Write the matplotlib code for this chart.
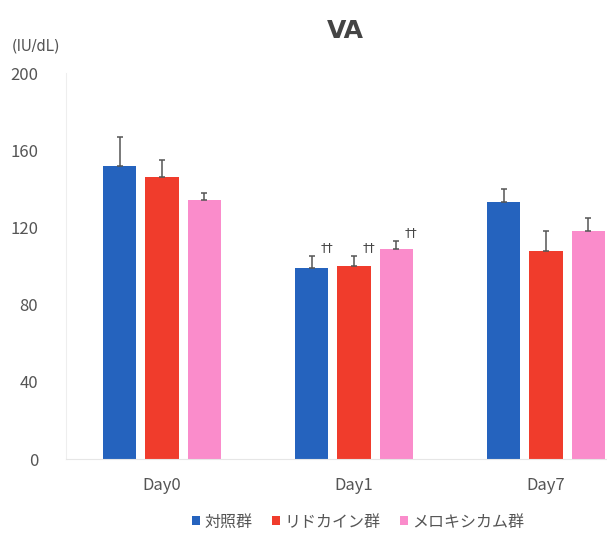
import matplotlib
matplotlib.use("Agg")
import matplotlib.pyplot as plt
import numpy as np

plt.rcParams['font.family'] = ['Noto Sans CJK JP', 'DejaVu Sans']

# Data
days = ["Day0", "Day1", "Day7"]
groups = ["対照群", "リドカイン群", "メロキシカム群"]
control = [152, 99, 133]
control_err = [15, 6, 7]
lidocaine = [146, 100, 108]
lidocaine_err = [9, 5, 10]
meloxicam = [134, 109, 118]
meloxicam_err = [4, 4, 7]
# significance marks per group, per day
marks = [["", "††", ""], ["", "††", ""], ["", "††", ""]]
yticks = [0, 40, 80, 120, 160, 200]

colors = ["#2563be", "#f03c2c", "#fa8ccb"]

fig = plt.figure(figsize=(6.07, 5.37), dpi=100)
ax = fig.add_axes([66 / 607, 78 / 537, 1 - 66 / 607, (459 - 73) / 537])

x = np.arange(len(days))
width = 0.172
offset = 0.219
series = [(control, control_err), (lidocaine, lidocaine_err), (meloxicam, meloxicam_err)]
for i, ((vals, errs), col, name) in enumerate(zip(series, colors, groups)):
    pos = x + (i - 1) * offset
    ax.bar(pos, vals, width, color=col, label=name, zorder=2)
    ax.errorbar(pos, vals, yerr=[np.zeros(len(errs)), errs], fmt="none",
                ecolor="#555555", elinewidth=1.1, capsize=2.5, capthick=1.1, zorder=3)
    for j, m in enumerate(marks[i]):
        if m:
            ax.text(pos[j] + 0.045, vals[j] + errs[j] + 1, m, fontsize=9,
                    color="#444444", ha="left", va="bottom", family="DejaVu Sans")

ax.set_xlim(-0.5, (607 - 162) / 192)
ax.set_ylim(0, 200)
ax.set_yticks(yticks)
ax.set_xticks(x)
ax.set_xticklabels(days)
ax.tick_params(axis="both", length=0, colors="#555555", labelsize=12)
ax.tick_params(axis="y", pad=20)
ax.tick_params(axis="x", pad=13)
for s in ["top", "right"]:
    ax.spines[s].set_visible(False)
ax.spines["left"].set_color("#eeeeee")
ax.spines["bottom"].set_color("#e6e6e6")

fig.text(345 / 607, 1 - 31 / 537, "VA", ha="center", va="center", fontsize=18,
         color="#444444", family="DejaVu Sans", weight="bold")
fig.text(12 / 607, 1 - 46 / 537, "(IU/dL)", ha="left", va="center", fontsize=10.5,
         color="#555555", family="DejaVu Sans")

fig.legend(loc="center", bbox_to_anchor=(358 / 607, 1 - 522 / 537), ncol=3,
           frameon=False, fontsize=11.5, handlelength=0.5, handleheight=0.5,
           handletextpad=0.3, columnspacing=1.2, labelcolor="#555555")

fig.savefig("out.png", dpi=100, facecolor="white")
